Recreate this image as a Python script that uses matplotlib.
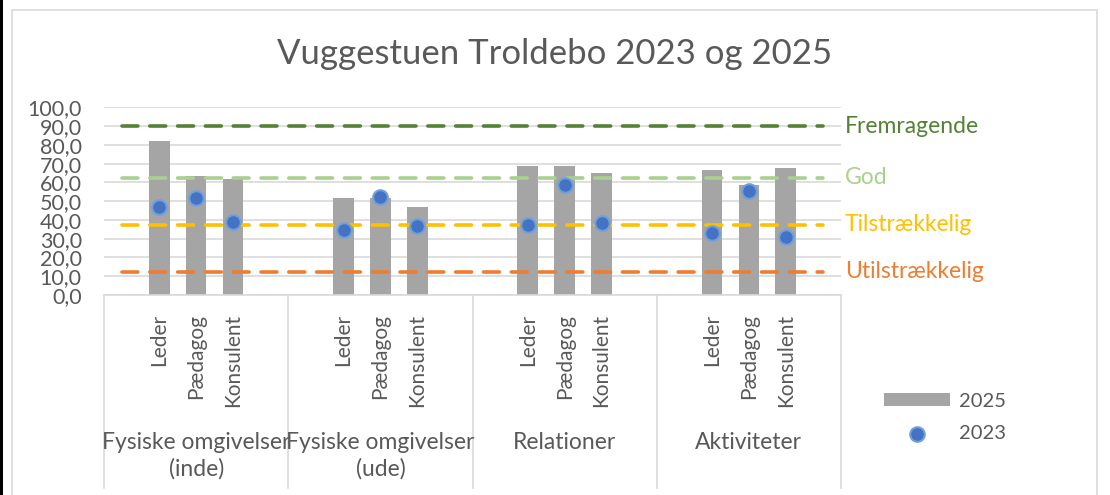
import matplotlib.pyplot as plt
from matplotlib.patches import Rectangle
from matplotlib.lines import Line2D
import matplotlib.transforms as mtrans

plt.rcParams['font.family'] = ['Lato', 'DejaVu Sans']

groups = ["Fysiske omgivelser\n(inde)", "Fysiske omgivelser\n(ude)", "Relationer", "Aktiviteter"]
roles = ["Leder", "Pædagog", "Konsulent"]
v2025 = [82.0, 63.2, 61.8, 51.8, 51.8, 47.1, 68.6, 68.9, 64.8, 66.4, 58.4, 67.5]
v2023 = [47.1, 51.6, 39.1, 34.5, 52.1, 37.0, 37.3, 58.8, 38.6, 32.9, 55.2, 30.7]
levels = [90, 62.5, 37.5, 12.5]
level_names = ["Fremragende", "God", "Tilstrækkelig", "Utilstrækkelig"]
level_colors = ["#548235", "#A9D18E", "#FFC000", "#ED7D31"]

txt = "#595959"
slots = 5  # each group: blank, 3 roles, blank

fig = plt.figure(figsize=(11.1, 4.95), dpi=100)
ax = fig.add_axes([0.0937, 0.404, 0.664, 0.379])

xs = [g * slots + 1 + r for g in range(len(groups)) for r in range(len(roles))]

bars = ax.bar(xs, v2025, width=0.56, color="#A5A5A5", zorder=2, label="2025")
dots = ax.scatter(xs, v2023, s=110, color="#4472C4", edgecolors="#6FA0DC", linewidths=1.5,
                  zorder=4, label="2023")

for lv, name, col in zip(levels, level_names, level_colors):
    ax.plot([0, len(groups) * slots - 1], [lv, lv], color=col, lw=2.6,
            dashes=(4.4, 3.3), dash_capstyle="round", zorder=3)
    ax.text(1.005, lv, name, color=col, fontsize=16.5, va="center", ha="left",
            transform=mtrans.blended_transform_factory(ax.transAxes, ax.transData))

ax.set_xlim(-0.5, len(groups) * slots - 0.5)
ax.set_ylim(0, 100)
ax.set_yticks(range(0, 101, 10))
ax.set_yticklabels([f"{v},0" for v in range(0, 101, 10)], color=txt, fontsize=15.5)
ax.tick_params(axis="y", length=0, pad=16)
ax.tick_params(axis="x", length=0)
ax.set_xticks([])
ax.yaxis.grid(True, color="#D9D9D9", lw=1.2, zorder=0)
for s in ["top", "right", "left"]:
    ax.spines[s].set_visible(False)
ax.spines["bottom"].set_color("#D9D9D9")
ax.spines["bottom"].set_linewidth(1.2)

# multi-level category axis
trans = mtrans.blended_transform_factory(ax.transData, ax.transAxes)
for x, lab in zip(xs, roles * len(groups)):
    ax.text(x, -0.1, lab, rotation=90, ha="center", va="top", color=txt,
            fontsize=15, transform=trans)
for g, name in enumerate(groups):
    ax.text(g * slots + 2, -0.73, name, ha="center", va="top", color=txt,
            fontsize=16.5, transform=trans, linespacing=1.3)
for g in range(len(groups) + 1):
    ax.add_line(Line2D([g * slots - 0.5] * 2, [0, -1.03], transform=trans,
                       color="#D9D9D9", lw=1.2, clip_on=False))

fig.text(0.5, 0.89, "Vuggestuen Troldebo 2023 og 2025", ha="center", va="center",
         fontsize=25, color=txt)

# legend
fig.legend([bars, dots], ["2025", "2023"], loc="upper left", bbox_to_anchor=(0.78, 0.243),
           frameon=False, fontsize=14.5, labelcolor=txt, handlelength=3.3,
           handleheight=0.6, labelspacing=0.75, handletextpad=0.45)

# chart frame
fig.patches.append(Rectangle((12 / 1110, -0.1), 1085 / 1110, 1.08, transform=fig.transFigure,
                             fill=False, edgecolor="#D9D9D9", lw=1.2))
fig.patches.append(Rectangle((0, 0), 3 / 1110, 1, transform=fig.transFigure,
                             color="black", lw=0))

fig.savefig("out.png", dpi=100)
